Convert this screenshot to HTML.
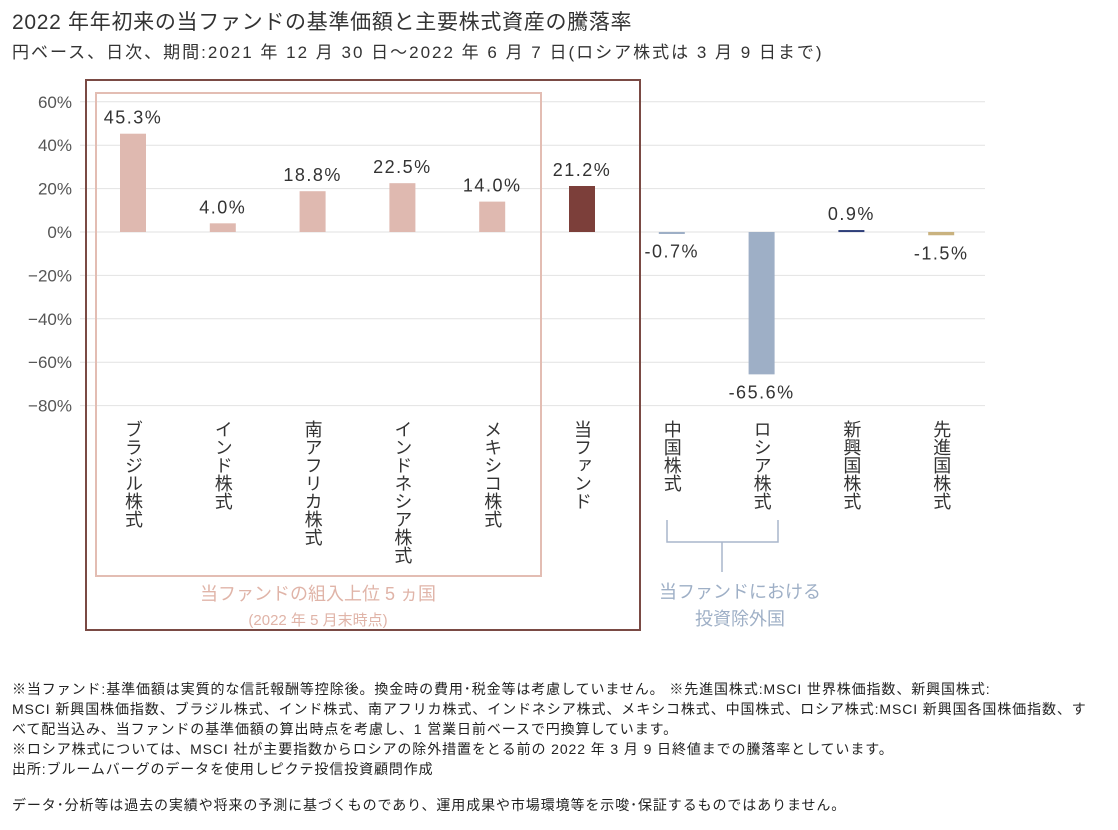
<!DOCTYPE html>
<html><head><meta charset="utf-8">
<style>
body{margin:0;width:1118px;height:830px;background:#fff;font-family:"Liberation Sans","Noto Sans CJK JP",sans-serif;color:#333;overflow:hidden;position:relative}
.t{position:absolute;white-space:nowrap}
</style></head><body>
<div class="t" style="left:12px;top:6px;font-size:21px;letter-spacing:0.7px;color:#333">2022 年年初来の当ファンドの基準価額と主要株式資産の騰落率</div>
<div class="t" style="left:12px;top:38px;font-size:17px;letter-spacing:2px;color:#333">円ベース、日次、期間:2021 年 12 月 30 日～2022 年 6 月 7 日(ロシア株式は 3 月 9 日まで)</div>
<svg id="chart" width="1118" height="660" style="position:absolute;left:0;top:0" font-family="Liberation Sans, Noto Sans CJK JP, sans-serif"></svg>
<div class="t" style="left:12px;top:679px;font-size:14px;letter-spacing:0.9px;line-height:20px;color:#222">※当ファンド:基準価額は実質的な信託報酬等控除後。換金時の費用･税金等は考慮していません。 ※先進国株式:MSCI 世界株価指数、新興国株式:<br>MSCI 新興国株価指数、ブラジル株式、インド株式、南アフリカ株式、インドネシア株式、メキシコ株式、中国株式、ロシア株式:MSCI 新興国各国株価指数、す<br>べて配当込み、当ファンドの基準価額の算出時点を考慮し、1 営業日前ベースで円換算しています。<br>※ロシア株式については、MSCI 社が主要指数からロシアの除外措置をとる前の 2022 年 3 月 9 日終値までの騰落率としています。<br>出所:ブルームバーグのデータを使用しピクテ投信投資顧問作成</div>
<div class="t" style="left:12px;top:795px;font-size:14px;letter-spacing:0.9px;color:#222">データ･分析等は過去の実績や将来の予測に基づくものであり、運用成果や市場環境等を示唆･保証するものではありません。</div>
<script>
const categories=["ブラジル株式","インド株式","南アフリカ株式","インドネシア株式","メキシコ株式","当ファンド","中国株式","ロシア株式","新興国株式","先進国株式"];
const values=[45.3,4.0,18.8,22.5,14.0,21.2,-0.7,-65.6,0.9,-1.5];
const colors=["#dfb9b0","#dfb9b0","#dfb9b0","#dfb9b0","#dfb9b0","#7c3f3a","#9eafc6","#9eafc6","#2f3f7a","#c9b27f"];
const ticks=[60,40,20,0,-20,-40,-60,-80];
const NS="http://www.w3.org/2000/svg";
const svg=document.getElementById('chart');
const y=v=>232-v*2.17;
const x=i=>133+i*89.8;
function mk(t,a,txt){const e=document.createElementNS(NS,t);for(const k in a)e.setAttribute(k,a[k]);if(txt!==undefined)e.textContent=txt;svg.appendChild(e);return e;}
ticks.forEach(t=>{
 const g=mk('line',{x1:80,x2:985,y1:y(t),y2:y(t),stroke:'#e2e2e2','stroke-width':1});
 
 
 const l=mk('text',{x:72,y:y(t)+6,'text-anchor':'end','font-size':17,fill:'#555'},(t<0?'−':'')+Math.abs(t)+'%');
 
 
});
mk('rect',{x:86,y:80,width:554,height:550,fill:'none',stroke:'#7a4a44','stroke-width':2});
mk('rect',{x:96,y:93,width:445,height:483,fill:'none',stroke:'#e3bdb3','stroke-width':2});
values.forEach((v,i)=>{
 const top=Math.min(y(v),y(0)),h=Math.max(Math.abs(y(v)-y(0)),2);
 const b=mk('rect',{x:x(i)-13,y:top,width:26,height:h,fill:colors[i]});
 
 
 const ly=v>=0?y(v)-10:y(v)+24;
 const s=(v<0?'-':'')+Math.abs(v).toFixed(1)+'%';
 if(v<-10) mk('rect',{x:x(i)-40,y:ly-18,width:80,height:22,fill:'#fff'});
 const l=mk('text',{x:x(i),y:ly,'text-anchor':'middle','font-size':18,fill:'#333','letter-spacing':'1.5'},s);
 
 
 const c=mk('text',{x:x(i),y:420,'font-size':18,fill:'#333'},categories[i]);
 c.setAttribute('style','writing-mode:vertical-rl;text-orientation:upright');
 
 
});
mk('path',{d:'M667 520 V542 H778 V520 M722 542 V572',fill:'none',stroke:'#a9b6cb','stroke-width':1.5});
const a1=mk('text',{x:318,y:600,'text-anchor':'middle','font-size':18,fill:'#e0b4a8'},'当ファンドの組入上位 5 ヵ国');
const a2=mk('text',{x:318,y:625,'text-anchor':'middle','font-size':15,fill:'#e0b4a8'},'(2022 年 5 月末時点)');
const a3=mk('text',{x:740,y:598,'text-anchor':'middle','font-size':18,fill:'#9eafc6'},'当ファンドにおける');
const a4=mk('text',{x:740,y:625,'text-anchor':'middle','font-size':18,fill:'#9eafc6'},'投資除外国');
</script>
</body></html>
